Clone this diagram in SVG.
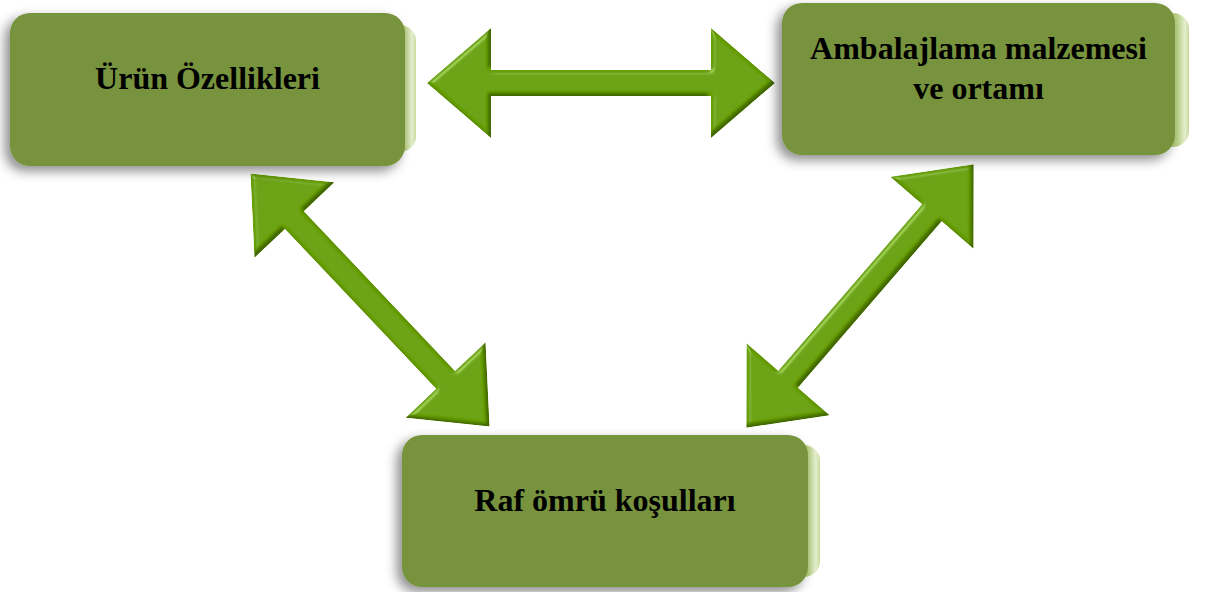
<svg xmlns="http://www.w3.org/2000/svg" width="1208" height="592" viewBox="0 0 1208 592">
  <defs>
    <style>
      .box { fill: #77933C; }
      .back { fill: url(#backGrad); }
      .label { font-family: "Liberation Serif", "Times New Roman", serif; font-weight: bold; font-size: 32px; fill: #000; text-anchor: middle; }
      .arrow { fill: #669E05; }
    </style>
    <linearGradient id="backGrad" x1="0" y1="0" x2="1" y2="0">
      <stop offset="0" stop-color="#9FBD5E"/>
      <stop offset="0.85" stop-color="#B9D184"/>
      <stop offset="0.95" stop-color="#E4EED0"/>
      <stop offset="1" stop-color="#C6DA98"/>
    </linearGradient>
    <filter id="shadow" x="-10%" y="-15%" width="120%" height="135%">
      <feDropShadow dx="-5" dy="5" stdDeviation="6" flood-color="#000" flood-opacity="0.45"/>
    </filter>
    <filter id="bevel" x="-10%" y="-10%" width="120%" height="120%">
      <feGaussianBlur in="SourceAlpha" stdDeviation="2" result="blur"/>
      <feSpecularLighting in="blur" surfaceScale="4" specularConstant="0.8" specularExponent="20" lighting-color="#D8F58A" result="spec">
        <feDistantLight azimuth="225" elevation="35"/>
      </feSpecularLighting>
      <feComposite in="spec" in2="SourceAlpha" operator="in" result="specIn"/>
      <feOffset in="SourceAlpha" dx="-3" dy="-3" result="off"/>
      <feGaussianBlur in="off" stdDeviation="1.5" result="offBlur"/>
      <feComposite in="SourceAlpha" in2="offBlur" operator="out" result="edge"/>
      <feFlood flood-color="#2E4A00" flood-opacity="0.75" result="dark"/>
      <feComposite in="dark" in2="edge" operator="in" result="shade"/>
      <feComposite in="SourceGraphic" in2="specIn" operator="arithmetic" k1="0" k2="1" k3="0.4" k4="0" result="lit"/>
      <feMerge result="m">
        <feMergeNode in="lit"/>
        <feMergeNode in="shade"/>
      </feMerge>
      <feComposite in="m" in2="SourceAlpha" operator="in"/>
    </filter>
    <path id="dblArrow" d="M -174 0 L -110 -55 L -110 -13 L 110 -13 L 110 -55 L 174 0 L 110 55 L 110 13 L -110 13 L -110 55 Z"/>
  </defs>

  <g id="connectors">
    <g filter="url(#bevel)">
      <use href="#dblArrow" class="arrow" transform="translate(601 83)"/>
    </g>
    <g filter="url(#bevel)">
      <use href="#dblArrow" class="arrow" transform="translate(370 300) rotate(46.6)"/>
    </g>
    <g filter="url(#bevel)">
      <use href="#dblArrow" class="arrow" transform="translate(860 296) rotate(-49.2)"/>
    </g>
  </g>

  <g id="node-urun">
    <rect class="back" x="340" y="25" width="76" height="127" rx="16"/>
    <rect class="box" x="10" y="13" width="395" height="153" rx="20" filter="url(#shadow)"/>
    <text class="label" x="207.5" y="89">Ürün Özellikleri</text>
  </g>

  <g id="node-ambalaj">
    <rect class="back" x="1110" y="13" width="79" height="134" rx="16"/>
    <rect class="box" x="782" y="3" width="393" height="152" rx="20" filter="url(#shadow)"/>
    <text class="label" x="978.5" y="59">Ambalajlama malzemesi</text>
    <text class="label" x="978.5" y="99">ve ortamı</text>
  </g>

  <g id="node-raf">
    <rect class="back" x="740" y="445" width="80" height="132" rx="16"/>
    <rect class="box" x="402" y="435" width="406" height="152" rx="20" filter="url(#shadow)"/>
    <text class="label" x="605" y="511">Raf ömrü koşulları</text>
  </g>
</svg>
